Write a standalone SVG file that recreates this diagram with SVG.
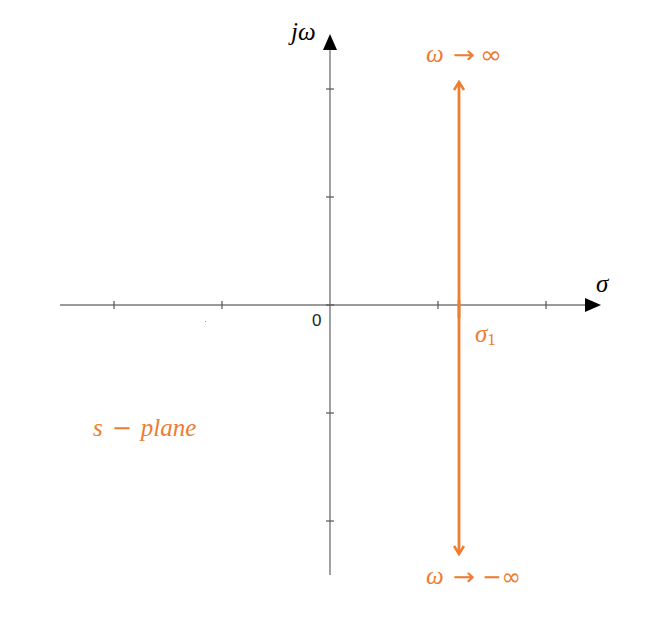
<svg xmlns="http://www.w3.org/2000/svg" width="648" height="628" viewBox="0 0 648 628">
<style>
.axis{stroke:#7a7a7a;stroke-width:1.4;fill:none}
.tick{stroke:#555;stroke-width:1.2}
.orange{stroke:#ED7D31;stroke-width:2.8;fill:none}
.math{font-family:"Liberation Serif","DejaVu Serif",serif;font-style:italic;font-size:25px}
.sym{font-family:"DejaVu Sans",sans-serif;font-style:normal;font-size:24px}
.olab{fill:#ED7D31}
</style>
<defs>
<marker id="chev" viewBox="0 0 12 12" refX="10" refY="6" markerWidth="12" markerHeight="12" markerUnits="userSpaceOnUse" orient="auto">
<path d="M2,1 L10,6 L2,11" fill="none" stroke="#ED7D31" stroke-width="2.6" stroke-linejoin="miter"/>
</marker>
</defs>
<rect width="648" height="628" fill="#fff"/>
<g id="connectors">
<line class="axis" x1="60" y1="305" x2="590" y2="305"/>
<line class="axis" x1="330" y1="575" x2="330" y2="48"/>
<polygon points="330,34 323,50 337,50" fill="#000"/>
<polygon points="601,305 585,298 585,312" fill="#000"/>
<g class="tick">
<line x1="114" y1="301" x2="114" y2="309"/>
<line x1="222" y1="301" x2="222" y2="309"/>
<line x1="438" y1="301" x2="438" y2="309"/>
<line x1="546" y1="301" x2="546" y2="309"/>
<line x1="326" y1="89" x2="334" y2="89"/>
<line x1="326" y1="197" x2="334" y2="197"/>
<line x1="326" y1="305" x2="334" y2="305"/>
<line x1="326" y1="413" x2="334" y2="413"/>
<line x1="326" y1="521" x2="334" y2="521"/>
</g>
<line class="orange" x1="459" y1="318" x2="459" y2="82" marker-end="url(#chev)"/>
<line class="orange" x1="459" y1="300" x2="459" y2="554" marker-end="url(#chev)"/>
</g>
<rect x="205" y="321" width="1" height="1" fill="#999"/>
<g id="labels">
<text class="math" x="291" y="40" font-size="26">jω</text>
<text class="math" x="596" y="292">σ</text>
<text x="312" y="326" font-family="Liberation Sans,Arial,sans-serif" font-size="17" fill="#222">0</text>
<g class="olab">
<text class="math" x="426" y="62">ω</text>
<text class="sym" x="453" y="63" textLength="22" lengthAdjust="spacingAndGlyphs">→</text>
<text class="sym" x="480" y="63" textLength="22" lengthAdjust="spacingAndGlyphs">∞</text>
<text class="math" x="426" y="584">ω</text>
<text class="sym" x="453" y="585" textLength="22" lengthAdjust="spacingAndGlyphs">→</text>
<text class="sym" x="482" y="585" textLength="39" lengthAdjust="spacingAndGlyphs">−∞</text>
<text class="math" x="475" y="342">σ<tspan font-style="normal" font-size="17" dy="3">1</tspan></text>
<text class="math" x="93" y="436" font-size="28">s<tspan class="sym" font-size="22" dx="9">−</tspan><tspan dx="9">plane</tspan></text>
</g>
</g>
</svg>
